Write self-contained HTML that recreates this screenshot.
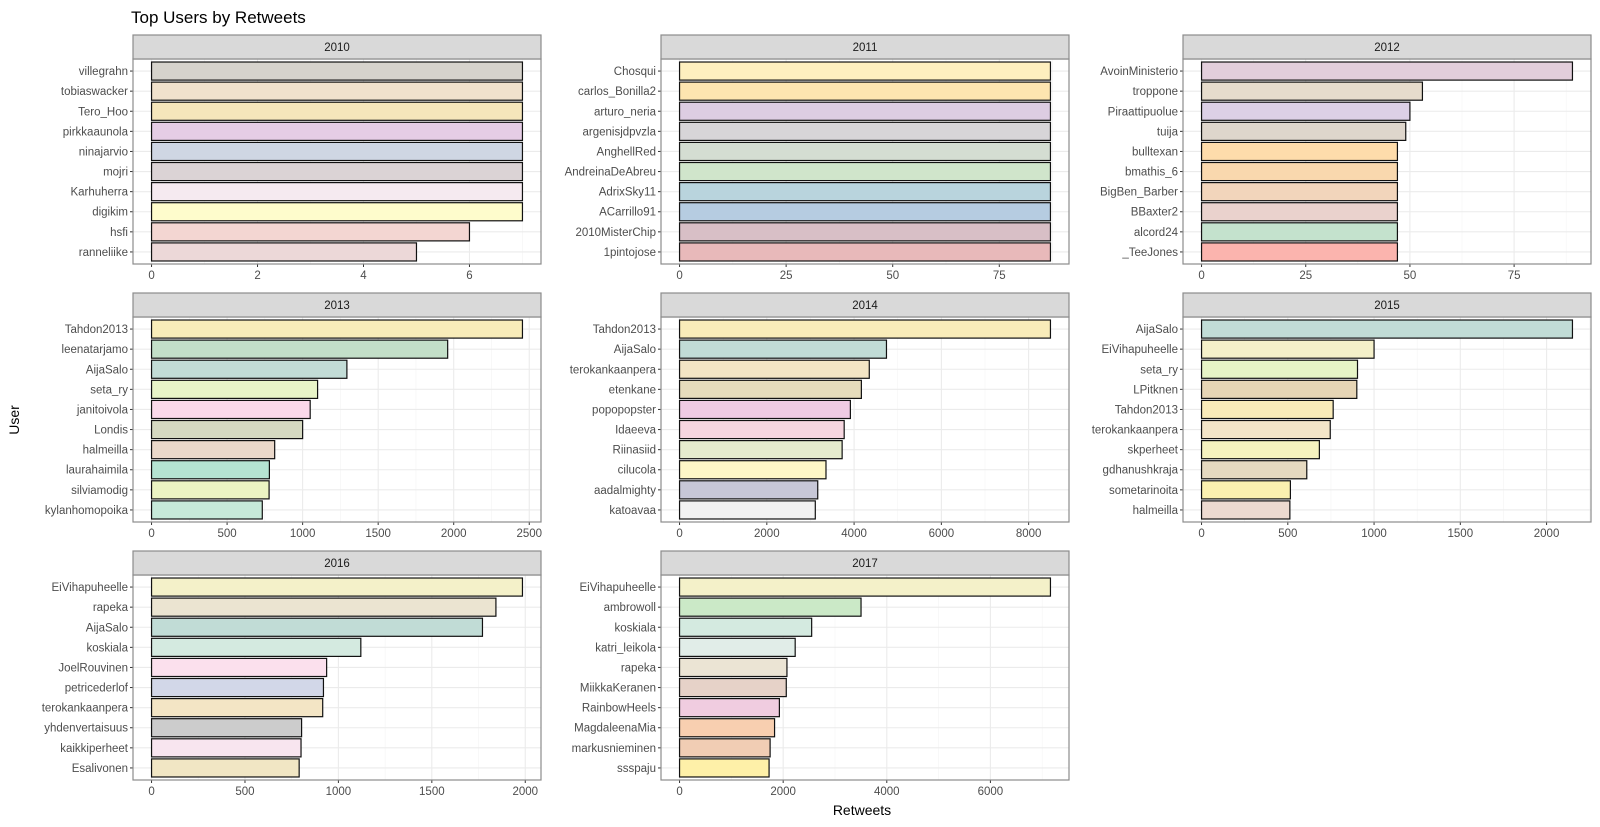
<!DOCTYPE html>
<html><head><meta charset="utf-8"><style>
body{margin:0;background:#fff;}
svg{display:block;font-family:"Liberation Sans",Arial,sans-serif;}
</style></head><body>
<svg id="chart" width="1600" height="827" viewBox="0 0 1600 827" xmlns="http://www.w3.org/2000/svg">
<rect x="0" y="0" width="1600" height="827" fill="#fff"/>
<text x="131" y="23" font-size="17" fill="#000">Top Users by Retweets</text>
<text transform="translate(19,420) rotate(-90)" text-anchor="middle" font-size="14" fill="#000">User</text>
<text x="862" y="815" text-anchor="middle" font-size="14" fill="#000">Retweets</text>
</svg>
<script>
const years = ["2010","2011","2012","2013","2014","2015","2016","2017"];
const users2010 = ["villegrahn","tobiaswacker","Tero_Hoo","pirkkaaunola","ninajarvio","mojri","Karhuherra","digikim","hsfi","ranneliike"];
const values2010 = [7,7,7,7,7,7,7,7,6,5];
const users2011 = ["Chosqui","carlos_Bonilla2","arturo_neria","argenisjdpvzla","AnghellRed","AndreinaDeAbreu","AdrixSky11","ACarrillo91","2010MisterChip","1pintojose"];
const values2011 = [87,87,87,87,87,87,87,87,87,87];
const users2012 = ["AvoinMinisterio","troppone","Piraattipuolue","tuija","bulltexan","bmathis_6","BigBen_Barber","BBaxter2","alcord24","_TeeJones"];
const values2012 = [89,53,50,49,47,47,47,47,47,47];
const users2013 = ["Tahdon2013","leenatarjamo","AijaSalo","seta_ry","janitoivola","Londis","halmeilla","laurahaimila","silviamodig","kylanhomopoika"];
const values2013 = [2455,1960,1293,1099,1050,1000,815,780,778,733];
const users2014 = ["Tahdon2013","AijaSalo","terokankaanpera","etenkane","popopopster","Idaeeva","Riinasiid","cilucola","aadalmighty","katoavaa"];
const values2014 = [8500,4742,4348,4167,3915,3773,3726,3356,3167,3111];
const users2015 = ["AijaSalo","EiVihapuheelle","seta_ry","LPitknen","Tahdon2013","terokankaanpera","skperheet","gdhanushkraja","sometarinoita","halmeilla"];
const values2015 = [2150,1000,904,900,763,746,683,610,515,512];
const users2016 = ["EiVihapuheelle","rapeka","AijaSalo","koskiala","JoelRouvinen","petricederlof","terokankaanpera","yhdenvertaisuus","kaikkiperheet","Esalivonen"];
const values2016 = [1985,1843,1771,1120,937,920,916,803,800,790];
const users2017 = ["EiVihapuheelle","ambrowoll","koskiala","katri_leikola","rapeka","MiikkaKeranen","RainbowHeels","MagdaleenaMia","markusnieminen","ssspaju"];
const values2017 = [7159,3503,2550,2232,2073,2060,1927,1834,1748,1728];
const ticks2010 = [0,2,4,6];
const ticks2011 = [0,25,50,75];
const ticks2012 = [0,25,50,75];
const ticks2013 = [0,500,1000,1500,2000,2500];
const ticks2014 = [0,2000,4000,6000,8000];
const ticks2015 = [0,500,1000,1500,2000];
const ticks2016 = [0,500,1000,1500,2000];
const ticks2017 = [0,2000,4000,6000];

const fills = [
["#d6d3cc","#f0e1cc","#f5e6bb","#e5cde5","#cfd6e3","#dbd3d5","#f5eaf0","#fefccc","#f3d6d2","#ecd8d8"],
["#feefbf","#fde5b0","#ddcde2","#d7d5d8","#d4ddd2","#d0e5cb","#b9d4dd","#b6cce1","#d8bfc6","#e8b9ba"],
["#e2cedb","#e6dccc","#dcd0e6","#ded6cc","#fedcab","#f9d8ae","#f2d5bb","#ead2cd","#c4e2cd","#fbb4ae"],
["#f8ecb9","#c3dfc8","#c2dcd6","#e8f4c8","#fad9ea","#d5d9c1","#ead8ca","#b5e3d2","#ecf4c3","#c7e9d9"],
["#f9ecb9","#c1dcd6","#f3e5c5","#e6dcbc","#efcbe3","#f6d6e0","#e6ecce","#fef7c7","#c7c7d7","#f2f2f2"],
["#c1dcd6","#f4f0c9","#e6f4c6","#e6d5b5","#f9ebb9","#f3e5c8","#f5f2bf","#e5d9c0","#fbf1b0","#ecdad0"],
["#f4f1c9","#ebe4d1","#c1dcd6","#d4eae0","#fbe0ed","#d2d7e8","#f3e5c5","#cccccc","#f8e5ef","#f1e6c4"],
["#f4f1c9","#cbe9c7","#d4eae0","#e1ede8","#ebe4d4","#e6d2c8","#f0cce0","#f8cfb0","#f1cdb4","#fef0a8"]];

const users=[users2010,users2011,users2012,users2013,users2014,users2015,users2016,users2017];
const vals=[values2010,values2011,values2012,values2013,values2014,values2015,values2016,values2017];
const ticks=[ticks2010,ticks2011,ticks2012,ticks2013,ticks2014,ticks2015,ticks2016,ticks2017];

const svg=document.getElementById('chart');
const NS="http://www.w3.org/2000/svg";
function mk(tag,attrs,parent){const e=document.createElementNS(NS,tag);for(const k in attrs)e.setAttribute(k,attrs[k]);(parent||svg).appendChild(e);return e;}
const colX=[133,661,1183], rowY=[35,293,551], PW=408, SH=24, PH=205;

years.forEach((yr,i)=>{
  const px=colX[i%3], sy=rowY[Math.floor(i/3)], py=sy+SH;
  const g=mk('g',{});
  
  
  const mx=Math.max(...vals[i]);
  const dmin=-0.05*mx, dmax=1.05*mx;
  const xs=v=>px+(v-dmin)/(dmax-dmin)*PW;
  const n=users[i].length;
  const ys=k=>py+(k+0.6)/(n+0.2)*PH; // k=0 top
  const band=PH/(n+0.2);
  // grid minor
  const tk=ticks[i], step=tk[1]-tk[0];
  for(let t=tk[0]-step/2;t<=dmax;t+=step){ if(t<dmin)continue;
    const l=mk('line',{x1:xs(t),x2:xs(t),y1:py,y2:py+PH,stroke:'#f4f4f4','stroke-width':0.6},g);
    
    
  }
  tk.forEach(t=>{
    const l=mk('line',{x1:xs(t),x2:xs(t),y1:py,y2:py+PH,stroke:'#ebebeb','stroke-width':1.1},g);
    
    
  });
  for(let k=0;k<n;k++){
    const l=mk('line',{x1:px,x2:px+PW,y1:ys(k),y2:ys(k),stroke:'#ebebeb','stroke-width':1.1},g);
    
    
  }
  // bars
  for(let k=0;k<n;k++){
    const v=vals[i][k];
    const r=mk('rect',{x:xs(0),y:ys(k)-band*0.45,width:xs(v)-xs(0),height:band*0.9,fill:fills[i][k],stroke:'#111','stroke-width':1.2},g);
    
    
    const tm=mk('line',{x1:px-3,x2:px,y1:ys(k),y2:ys(k),stroke:'#333','stroke-width':1},g);
    
    
    const tl=mk('text',{x:px-5,y:ys(k)+4,'text-anchor':'end','font-size':11.5,fill:'#4d4d4d'},g);
    tl.textContent=users[i][k];
    
    
  }
  tk.forEach(t=>{
    const tm=mk('line',{x1:xs(t),x2:xs(t),y1:py+PH,y2:py+PH+3,stroke:'#333','stroke-width':1},g);
    
    
    const tl=mk('text',{x:xs(t),y:py+PH+15,'text-anchor':'middle','font-size':11.5,fill:'#4d4d4d'},g);
    tl.textContent=t;
    
    
  });
  const b=mk('rect',{x:px,y:py,width:PW,height:PH,fill:'none',stroke:'#8c8c8c','stroke-width':1.2},g);
  
  
  const s=mk('rect',{x:px,y:sy,width:PW,height:SH,fill:'#d9d9d9',stroke:'#8c8c8c','stroke-width':1.2},g);
  
  
  const st=mk('text',{x:px+PW/2,y:sy+16,'text-anchor':'middle','font-size':11.5,fill:'#1a1a1a'},g);
  st.textContent=yr;
  
  
});
</script>
</body></html>
